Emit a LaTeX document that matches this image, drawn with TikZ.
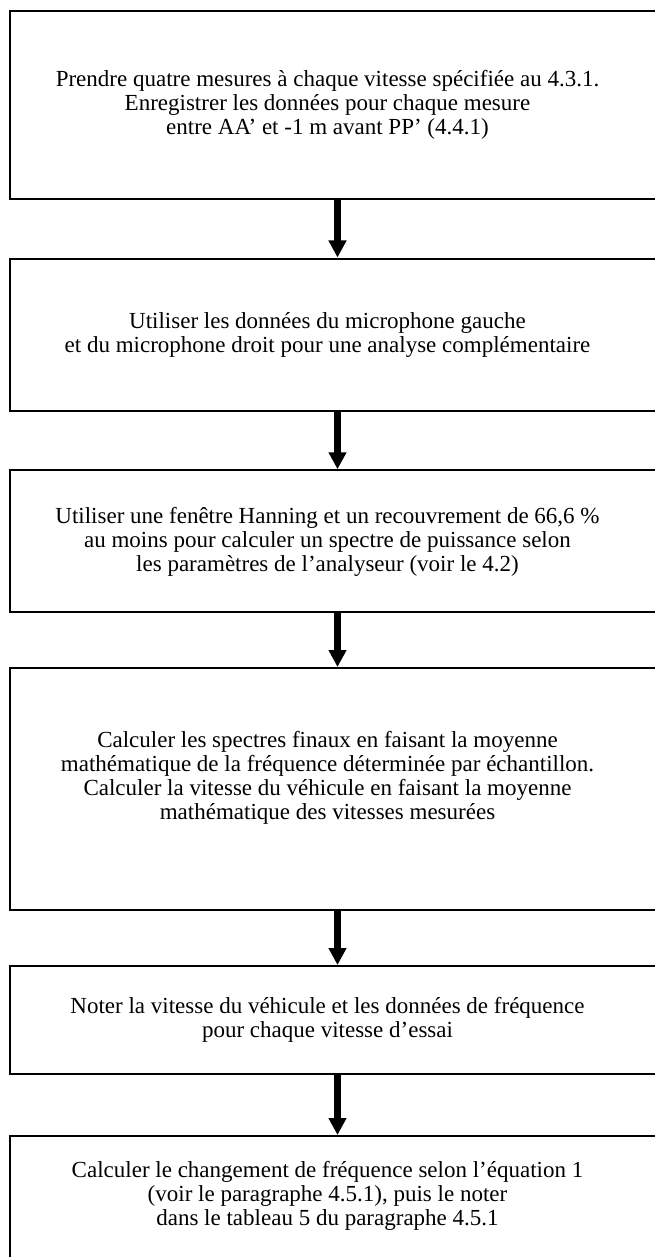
\documentclass[tikz,border=0pt]{standalone}
\usepackage{fontspec}
\setmainfont{Liberation Serif}
\usetikzlibrary{arrows.meta}

\tikzset{
  stage/.style={draw, line width=2pt, minimum width=656pt, inner sep=0pt},
  txt/.style={align=center, font=\fontsize{23}{24}\selectfont, inner sep=0pt},
  flow/.style={line width=6.5pt, -{Triangle[width=17pt,length=17pt]}}
}

\begin{document}
\begin{tikzpicture}[x=1pt,y=-1pt]
    \clip (0,0) rectangle (655,1257);
    % boxes
    \node[stage, minimum height=188pt] (b1) at (337.5,105) {};
    \node[stage, minimum height=152pt] (b2) at (337.5,334.5) {};
    \node[stage, minimum height=141.5pt] (b3) at (337.5,541) {};
    \node[stage, minimum height=241.5pt] (b4) at (337.5,788.75) {};
    \node[stage, minimum height=108pt] (b5) at (337.5,1020) {};
    \node[stage, minimum height=128pt] (b6) at (337.5,1200) {};
    % texts
    \node[txt] (t1) at ([xshift=-10pt]b1.center) {Prendre quatre mesures à chaque vitesse spécifiée au 4.3.1.\\ Enregistrer les données pour chaque mesure\\ entre AA’ et -1 m avant PP’ (4.4.1)};
    \node[txt] (t2) at ([xshift=-10pt]b2.center) {Utiliser les données du microphone gauche\\ et du microphone droit pour une analyse complémentaire};
    \node[txt] (t3) at ([xshift=-10pt,yshift=-1pt]b3.center) {Utiliser une fenêtre Hanning et un recouvrement de 66,6~\%\\ au moins pour calculer un spectre de puissance selon\\ les paramètres de l’analyseur (voir le 4.2)};
    \node[txt] (t4) at ([xshift=-10pt,yshift=11pt]b4.center) {Calculer les spectres finaux en faisant la moyenne\\ mathématique de la fréquence déterminée par échantillon.\\ Calculer la vitesse du véhicule en faisant la moyenne\\ mathématique des vitesses mesurées};
    \node[txt] (t5) at ([xshift=-10pt]b5.center) {Noter la vitesse du véhicule et les données de fréquence\\ pour chaque vitesse d’essai};
    \node[txt] (t6) at ([xshift=-10pt,yshift=4pt]b6.center) {Calculer le changement de fréquence selon l’équation 1\\ (voir le paragraphe 4.5.1), puis le noter\\ dans le tableau 5 du paragraphe 4.5.1};
    % arrows
    \foreach \a/\b in {b1/b2, b2/b3, b3/b4, b4/b5, b5/b6}
        \draw[flow] (\a.south) -- (\b.north);
\end{tikzpicture}
\end{document}
